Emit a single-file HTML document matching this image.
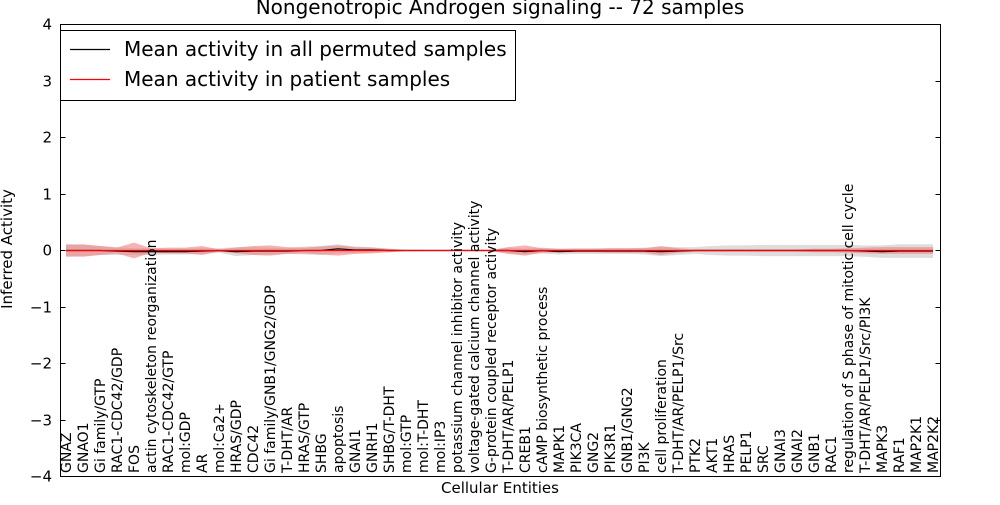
<!DOCTYPE html>
<html><head><meta charset="utf-8"><style>
body{margin:0;background:#fff;width:1000px;height:500px;overflow:hidden}
svg{font-family:"DejaVu Sans","Liberation Sans",sans-serif}
</style></head><body>
<svg id="chart" width="1000" height="500" viewBox="0 0 1000 500" xmlns="http://www.w3.org/2000/svg">
<text x="500" y="14" text-anchor="middle" font-size="20">Nongenotropic Androgen signaling -- 72 samples</text>
<text transform="translate(12,249) rotate(-90)" text-anchor="middle" font-size="15">Inferred Activity</text>
<text x="500" y="493" text-anchor="middle" font-size="15">Cellular Entities</text>
<g id="bands"></g><g id="lines"></g><g id="ticks"></g><g id="labels"></g>
<rect x="60.5" y="24.5" width="880" height="452" fill="none" stroke="#000" stroke-width="1"/>
<g>
<rect x="60.5" y="30.5" width="455" height="70" fill="#fff" stroke="#000"/>
<line x1="70" y1="49.5" x2="110" y2="49.5" stroke="#000" stroke-width="1.3"/>
<text x="124" y="56" font-size="20">Mean activity in all permuted samples</text>
<line x1="70" y1="79.5" x2="110" y2="79.5" stroke="#ff0000" stroke-width="1.3"/>
<text x="124" y="86" font-size="20">Mean activity in patient samples</text>
</g>
</svg>
<script>
const categories=["GNAZ","GNAO1","Gi family/GTP","RAC1-CDC42/GDP","FOS","actin cytoskeleton reorganization","RAC1-CDC42/GTP","mol:GDP","AR","mol:Ca2+","HRAS/GDP","CDC42","Gi family/GNB1/GNG2/GDP","T-DHT/AR","HRAS/GTP","SHBG","apoptosis","GNAI1","GNRH1","SHBG/T-DHT","mol:GTP","mol:T-DHT","mol:IP3","potassium channel inhibitor activity","voltage-gated calcium channel activity","G-protein coupled receptor activity","T-DHT/AR/PELP1","CREB1","cAMP biosynthetic process","MAPK1","PIK3CA","GNG2","PIK3R1","GNB1/GNG2","PI3K","cell proliferation","T-DHT/AR/PELP1/Src","PTK2","AKT1","HRAS","PELP1","SRC","GNAI3","GNAI2","GNB1","RAC1","regulation of S phase of mitotic cell cycle","T-DHT/AR/PELP1/Src/PI3K","MAPK3","RAF1","MAP2K1","MAP2K2"];
const permMean=[0,0,0,-0.01,-0.02,-0.02,-0.02,-0.02,-0.01,0,-0.02,-0.01,-0.01,-0.01,0,0,0.03,0.01,0.01,0,0,0,0,0,0,0,0,-0.02,0,-0.02,-0.01,-0.01,-0.01,-0.01,-0.01,-0.02,-0.01,0,0,0,0,0,0,0,0,0,0,-0.01,-0.02,-0.01,-0.01,-0.01];
const permSd=[0.12,0.1,0.08,0.07,0.06,0.06,0.05,0.05,0.05,0.04,0.08,0.07,0.06,0.05,0.07,0.08,0.08,0.06,0.05,0.03,0.01,0.01,0,0,0,0,0.05,0.05,0.05,0.05,0.05,0.05,0.05,0.05,0.06,0.08,0.07,0.06,0.08,0.09,0.09,0.1,0.1,0.1,0.1,0.1,0.1,0.1,0.11,0.12,0.12,0.12];
const patMean=[0,0,0,0,0,0,0,0,0,0,0,0,0,0,0,0,0,0,0,0,0,0,0,0,0,0,0,0,0,0,0,0,0,0,0,0,0,0,0,0,0,0,0,0,0,0,0,0,0,0,0,0];
const patSd=[0.1,0.11,0.08,0.05,0.14,0.04,0.05,0.05,0.08,0.02,0.05,0.08,0.09,0.06,0.05,0.07,0.09,0.06,0.05,0.03,0.01,0.01,0,0,0,0.01,0.06,0.09,0.04,0.03,0.03,0.03,0.04,0.04,0.04,0.08,0.04,0.02,0.02,0.02,0.02,0.02,0.02,0.02,0.03,0.03,0.04,0.05,0.06,0.06,0.06,0.06];
const yTicks=[4,3,2,1,0,-1,-2,-3,-4];
const X0=60.5,X1=940.5,Y0=24.5,Y1=476.5;
const xs=i=>66+i*(933-66)/(categories.length-1);
const ys=v=>Y0+(4-v)/8*(Y1-Y0);
const NS="http://www.w3.org/2000/svg";
function mk(t,a,p){const e=document.createElementNS(NS,t);for(const k in a)e.setAttribute(k,a[k]);p.appendChild(e);return e;}
const bands=document.getElementById('bands'),lines=document.getElementById('lines'),ticks=document.getElementById('ticks'),labels=document.getElementById('labels');
function band(m,s,fill,op){let up=m.map((v,i)=>xs(i)+','+ys(v+s[i]));let dn=m.map((v,i)=>xs(i)+','+ys(v-s[i])).reverse();return mk('polygon',{points:up.concat(dn).join(' '),fill:fill,'fill-opacity':op},bands);}
const b1=band(permMean,permSd,'#bbbbbb',0.5);


const b2=band(patMean,patSd,'#f08080',0.6);


const l1=mk('polyline',{points:permMean.map((v,i)=>xs(i)+','+ys(v)).join(' '),fill:'none',stroke:'#000','stroke-width':1.2},lines);


const l2=mk('polyline',{points:patMean.map((v,i)=>xs(i)+','+ys(v)).join(' '),fill:'none',stroke:'red','stroke-width':1.2},lines);


yTicks.forEach(v=>{const y=Math.round(ys(v)-0.5)+0.5;
mk('line',{x1:X0,y1:y,x2:X0+5,y2:y,stroke:'#000'},ticks);
mk('line',{x1:X1,y1:y,x2:X1-5,y2:y,stroke:'#000'},ticks);
const t=mk('text',{x:52,y:y+5,'text-anchor':'end','font-size':15},ticks);


t.textContent=(v<0?'\u2212'+(-v):v);});
categories.forEach((c,i)=>{const x=xs(i);
const t=mk('text',{transform:`translate(${x+5},473) rotate(-90)`,'font-size':14},labels);


t.textContent=c;});
</script>
</body></html>
